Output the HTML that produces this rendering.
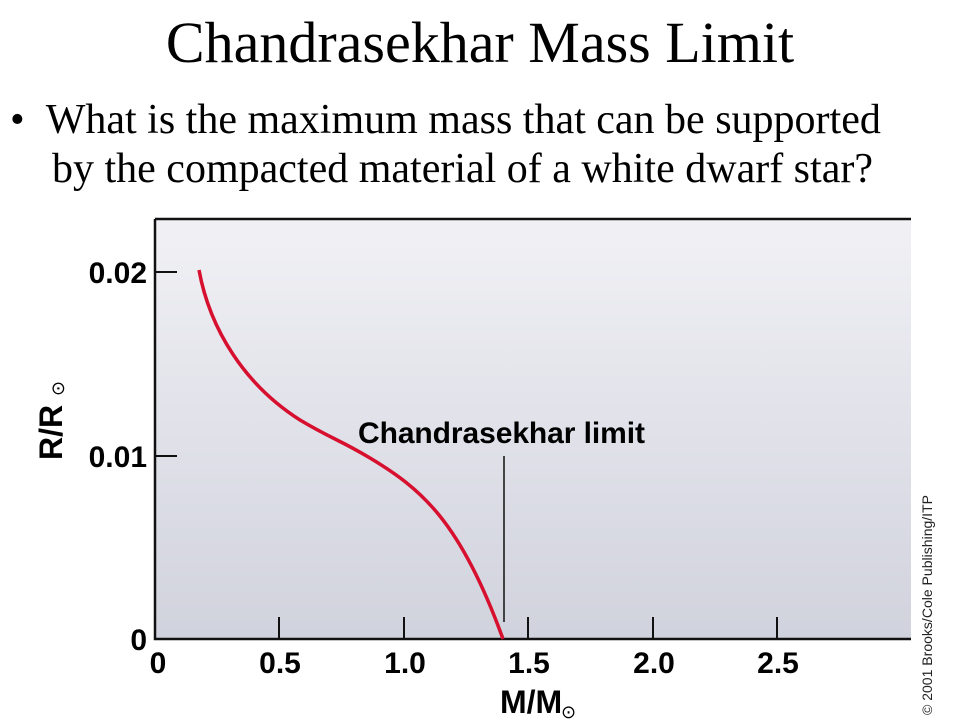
<!DOCTYPE html>
<html><head><style>
body{margin:0;width:960px;height:720px;background:#fff;overflow:hidden;position:relative;font-family:"Liberation Serif",serif}
.t{position:absolute;left:0;width:960px;text-align:center;top:8px;font-size:58px;line-height:70px}
.b{position:absolute;left:10px;top:96px;font-size:42px;line-height:49px}
</style></head><body>
<div class="t">Chandrasekhar Mass Limit</div>
<div class="b">•&nbsp;&nbsp;What is the maximum mass that can be supported<br>&nbsp;&nbsp;&nbsp;&nbsp;by the compacted material of a white dwarf star?</div>
<svg width="960" height="720" style="position:absolute;left:0;top:0" font-family="Liberation Sans, sans-serif" font-weight="bold">
<defs><linearGradient id="g" x1="0" y1="0" x2="0" y2="1"><stop offset="0" stop-color="#f1f1f5"/><stop offset="1" stop-color="#d0d2dd"/></linearGradient></defs>
<rect x="155" y="219" width="756" height="420" fill="url(#g)"/>
<path d="M155 219H911M155 219V639H911" stroke="#111" stroke-width="2.5" fill="none"/>
<g stroke="#111" stroke-width="2">
<path d="M155 272H177M155 456H177"/>
<path d="M279 617V639M404 617V639M528 617V639M653 617V639M777 617V639"/>
<path d="M504 456V622" stroke-width="1.5"/>
</g>
<path d="M199 270C210 330 245 385 300 420C330 438 340 440 370 458C420 488 460 520 503 639" stroke="#d6102e" stroke-width="3.5" fill="none"/>
<g font-size="30" text-anchor="end"><text x="147" y="283">0.02</text><text x="147" y="467">0.01</text><text x="147" y="650">0</text></g>
<g font-size="30" text-anchor="middle"><text x="158" y="673">0</text><text x="280" y="673">0.5</text><text x="405" y="673">1.0</text><text x="529" y="673">1.5</text><text x="654" y="673">2.0</text><text x="778" y="673">2.5</text></g>
<text x="358" y="443" font-size="30" textLength="287">Chandrasekhar limit</text>
<text x="500" y="713" font-size="32">M/M</text><text x="561" y="718" font-size="18" font-weight="normal">⊙</text>
<text transform="translate(62,460) rotate(-90)" font-size="32">R/R</text><text transform="translate(64,396) rotate(-90)" font-size="18" font-weight="normal">⊙</text>
<text transform="translate(932,715) rotate(-90)" font-size="14" font-weight="normal" fill="#222" textLength="220">© 2001 Brooks/Cole Publishing/ITP</text>
</svg>
</body></html>
